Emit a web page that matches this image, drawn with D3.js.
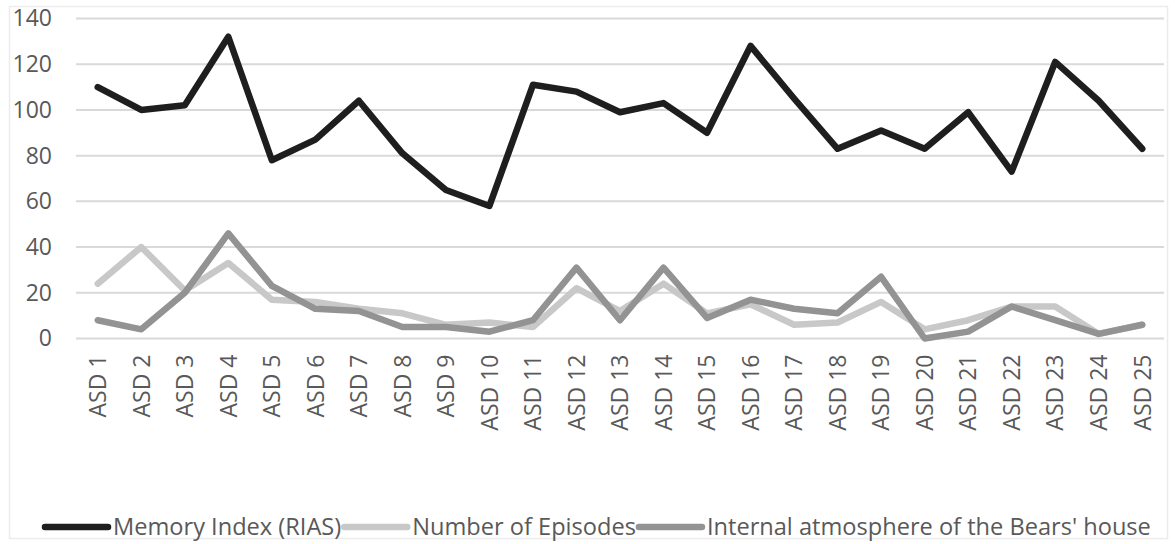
<!DOCTYPE html>
<html>
<head>
<meta charset="utf-8">
<script src="https://cdn.jsdelivr.net/npm/d3@7"></script>
<style>
  html, body { margin: 0; padding: 0; background: #ffffff; }
  svg { display: block; }
  text { font-family: "Open Sans", sans-serif; fill: #595959; }
</style>
</head>
<body>
<svg id="chart" width="1175" height="544"></svg>
<script>
const categories = ["ASD 1","ASD 2","ASD 3","ASD 4","ASD 5","ASD 6","ASD 7","ASD 8","ASD 9","ASD 10",
  "ASD 11","ASD 12","ASD 13","ASD 14","ASD 15","ASD 16","ASD 17","ASD 18","ASD 19","ASD 20",
  "ASD 21","ASD 22","ASD 23","ASD 24","ASD 25"];
const memoryIndex = [110,100,102,132,78,87,104,81,65,58,111,108,99,103,90,128,105,83,91,83,99,73,121,104,83];
const numberOfEpisodes = [24,40,21,33,17,16,13,11,6,7,5,22,12,24,11,15,6,7,16,4,8,14,14,2,6];
const internalAtmosphere = [8,4,20,46,23,13,12,5,5,3,8,31,8,31,9,17,13,11,27,0,3,14,8,2,6];
const yTicks = [0,20,40,60,80,100,120,140];
const seriesNames = ["Memory Index (RIAS)", "Number of Episodes", "Internal atmosphere of the Bears' house"];

const series = [
  { name: seriesNames[0], values: memoryIndex, color: "#1e1e1e" },
  { name: seriesNames[1], values: numberOfEpisodes, color: "#c8c8c8" },
  { name: seriesNames[2], values: internalAtmosphere, color: "#939393" }
];

const svg = d3.select("#chart");
const plot = { left: 76, right: 1164, top: 18.5, bottom: 338.5 };

// outer frame
svg.append("rect").attr("x", 9.5).attr("y", 6.5).attr("width", 1158).attr("height", 532)
  .attr("fill", "#ffffff").attr("stroke", "#ececec").attr("stroke-width", 1.5);

const x = d3.scaleBand().domain(categories).range([plot.left, plot.right]).paddingInner(0).paddingOuter(0);
const y = d3.scaleLinear().domain([0, 140]).range([plot.bottom, plot.top]);

// gridlines
svg.append("g").selectAll("line").data(yTicks).join("line")
  .attr("x1", plot.left).attr("x2", plot.right)
  .attr("y1", d => y(d)).attr("y2", d => y(d))
  .attr("stroke", "#d9d9d9").attr("stroke-width", 2);

// y axis labels
const yAxis = d3.axisLeft(y).tickValues(yTicks).tickSize(0).tickPadding(0);
const gy = svg.append("g").attr("transform", `translate(52,0)`).call(yAxis);
gy.select(".domain").remove();
gy.selectAll("text").attr("font-size", 23).attr("font-family", "Open Sans").attr("fill", "#595959");

// x axis labels
const xAxis = d3.axisBottom(x).tickSize(0).tickPadding(0);
const gx = svg.append("g").attr("transform", `translate(0,${plot.bottom})`).call(xAxis);
gx.select(".domain").remove();
gx.selectAll("text")
  .attr("font-size", 23).attr("font-family", "Open Sans").attr("fill", "#595959")
  .attr("text-anchor", "end")
  .attr("transform", "rotate(-90)")
  .attr("x", -16).attr("y", 0).attr("dy", "0.36em");

// lines
const line = d3.line().x((d, i) => x(categories[i]) + x.bandwidth() / 2).y(d => y(d));
svg.append("g").selectAll("path").data(series).join("path")
  .attr("d", d => line(d.values))
  .attr("fill", "none").attr("stroke", d => d.color).attr("stroke-width", 6.5)
  .attr("stroke-linejoin", "round").attr("stroke-linecap", "round");

// legend
const lg = svg.append("g");
let cx = 45;
const ly = 527;
series.forEach((s, i) => {
  lg.append("line").attr("x1", cx).attr("x2", cx + 63).attr("y1", ly).attr("y2", ly)
    .attr("stroke", s.color).attr("stroke-width", 6.5).attr("stroke-linecap", "round");
  const t = lg.append("text").attr("x", cx + 68).attr("y", ly).attr("dy", "0.36em")
    .attr("font-size", 23.6).text(s.name);
  cx = cx + 68 + t.node().getComputedTextLength() + 3;
});
</script>
</body>
</html>
